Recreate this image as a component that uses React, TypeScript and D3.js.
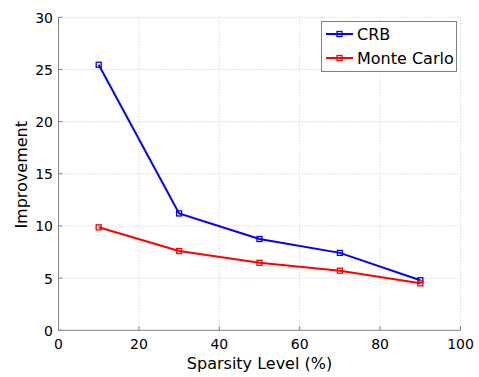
import React from "react";
import * as d3 from "d3";

const sparsity = [10, 30, 50, 70, 90];
const crb = [25.45, 11.2, 8.75, 7.42, 4.8];
const monteCarlo = [9.87, 7.6, 6.47, 5.71, 4.5];
const xTicks = [0, 20, 40, 60, 80, 100];
const yTicks = [0, 5, 10, 15, 20, 25, 30];
const seriesNames = ["CRB", "Monte Carlo"];
const seriesColors = ["#0000ff", "#ff0000"];

const W = 479, H = 377;
const L = 58.5, R = 460.5, T = 17.3, B = 330.3;

export default function App() {
  const x = d3.scaleLinear().domain([0, 100]).range([L, R]);
  const y = d3.scaleLinear().domain([0, 30]).range([B, T]);
  const line = d3.line<number>().x((_, i) => x(sparsity[i])).y((d) => y(d));
  const series = [crb, monteCarlo];
  const font = "'DejaVu Sans', sans-serif";
  return (
    <svg width={W} height={H} style={{ position: "absolute", left: 0, top: 0 }} fontFamily={font}>
      <rect x={0} y={0} width={W} height={H} fill="#fff" />
      {xTicks.slice(1).map((t) => (
        <line key={"gx" + t} x1={x(t)} x2={x(t)} y1={B} y2={T} stroke="#c8c8c8" strokeWidth={1} strokeDasharray="1,2" />
      ))}
      {yTicks.slice(1).map((t) => (
        <line key={"gy" + t} x1={L} x2={R} y1={y(t)} y2={y(t)} stroke="#c8c8c8" strokeWidth={1} strokeDasharray="1,2" />
      ))}
      <line x1={L} x2={L} y1={T} y2={B} stroke="#808080" />
      <line x1={L} x2={R} y1={B} y2={B} stroke="#808080" />
      {xTicks.map((t) => (
        <g key={"tx" + t}>
          <line x1={x(t)} x2={x(t)} y1={B} y2={B - 4} stroke="#808080" />
          <text x={x(t)} y={B + 19} textAnchor="middle" fontSize={14}>{t}</text>
        </g>
      ))}
      {yTicks.map((t) => (
        <g key={"ty" + t}>
          <line x1={L} x2={L + 4} y1={y(t)} y2={y(t)} stroke="#808080" />
          <text x={L - 5.5} y={y(t) + 5.5} textAnchor="end" fontSize={14}>{t}</text>
        </g>
      ))}
      <text x={(L + R) / 2} y={369} textAnchor="middle" fontSize={16}>Sparsity Level (%)</text>
      <text transform={`translate(27,${(T + B) / 2 + 1}) rotate(-90)`} textAnchor="middle" fontSize={16}>Improvement</text>
      {series.map((s, k) => (
        <g key={"s" + k}>
          <path d={line(s) || ""} fill="none" stroke={seriesColors[k]} strokeWidth={2} />
          {s.map((v, i) => (
            <rect key={i} x={x(sparsity[i]) - 2.5} y={y(v) - 2.5} width={5} height={5} fill="none" stroke={seriesColors[k]} strokeWidth={1.3} />
          ))}
        </g>
      ))}
      <rect x={321.5} y={21.5} width={135} height={50} fill="#fff" stroke="#808080" />
      {seriesNames.map((n, k) => {
        const ly = 34 + k * 24;
        return (
          <g key={"l" + n}>
            <line x1={326} x2={353} y1={ly} y2={ly} stroke={seriesColors[k]} strokeWidth={2} />
            <rect x={337} y={ly - 2.5} width={5} height={5} fill="none" stroke={seriesColors[k]} strokeWidth={1.3} />
            <text x={357} y={ly + 6} fontSize={16}>{n}</text>
          </g>
        );
      })}
    </svg>
  );
}
